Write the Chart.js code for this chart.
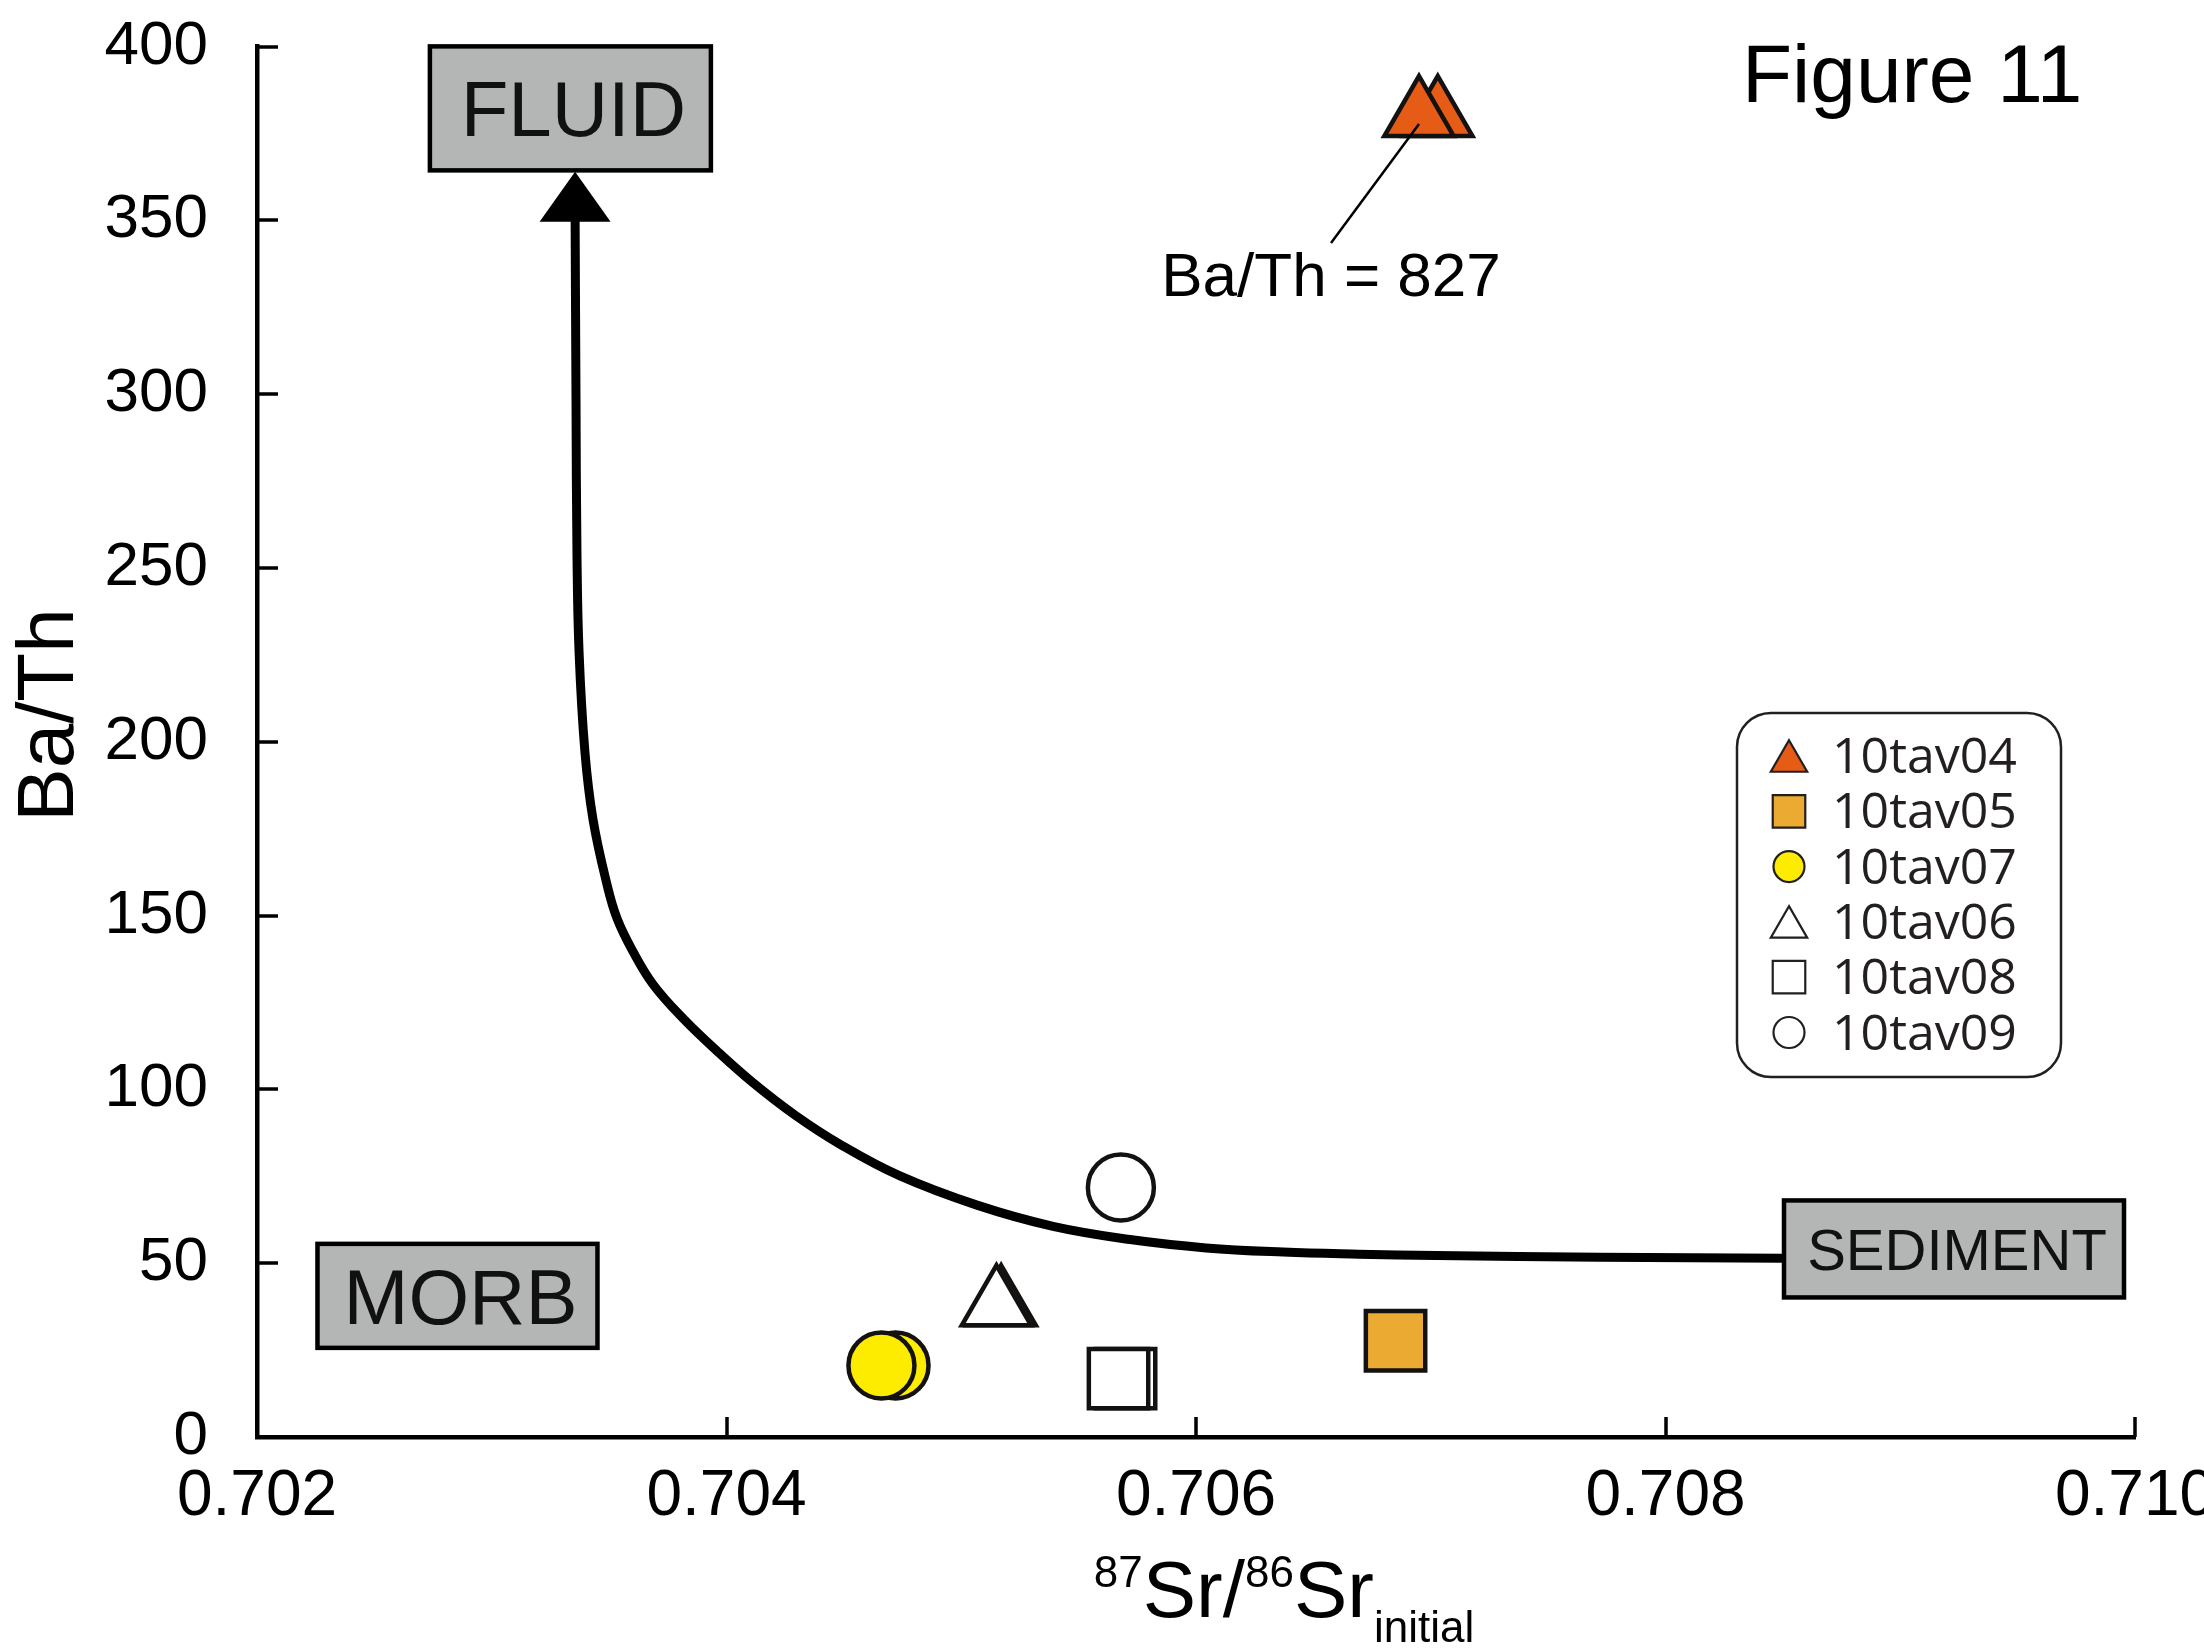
<!DOCTYPE html>
<html>
<head>
<meta charset="utf-8">
<title>Figure 11</title>
<script src="https://cdn.jsdelivr.net/npm/chart.js@4.4.1/dist/chart.umd.min.js"></script>
<style>
  html, body { margin: 0; padding: 0; background: #fff; }
  #wrap { width: 2204px; height: 1649px; }
</style>
</head>
<body>
<div id="wrap"><canvas id="fig11" width="2204" height="1649"></canvas></div>
<script>
// Ba/Th vs initial 87Sr/86Sr with the fluid / sediment mixing curve

const sampleNames = ['10tav04', '10tav05', '10tav07', '10tav06', '10tav08', '10tav09'];
// duplicate analyses per sample (first one is drawn on top)
const srInitial = [
  [0.70695, 0.70703],
  [0.70685],
  [0.70466, 0.70472],
  [0.70515, 0.70517],
  [0.70567, 0.70570],
  [0.70568]
];
const baTh = [
  [827, 827],
  [27.7],
  [20.6, 20.6],
  [37.9, 37.9],
  [16.8, 16.8],
  [71.8]
];

// mixing curve from the fluid end-member down to sediment
const curveSr = [0.703355, 0.703359, 0.703363, 0.703372, 0.703397, 0.703431, 0.703491, 0.703534,
  0.703602, 0.703687, 0.703815, 0.703960, 0.704113, 0.704292, 0.704484, 0.704739, 0.705067,
  0.705391, 0.705719, 0.706043, 0.706371, 0.706694, 0.707022, 0.707721, 0.708505];
const curveBaTh = [352, 297.3, 254.3, 225.7, 197.0, 177.8, 158.9, 149.1,
  139.6, 130.2, 120.4, 111.0, 101.9, 92.6, 84.2, 75.1, 66.7,
  60.6, 56.8, 54.4, 53.2, 52.6, 52.2, 51.7, 51.4];
const fluidArrowTip = [0.703355, 364];

const xTicks = [0.702, 0.704, 0.706, 0.708, 0.710];
const yTicks = [0, 50, 100, 150, 200, 250, 300, 350, 400];

// values above the axis top are pinned just under it
const yMax = 400;
const offScaleBaTh = 380;
const plotBaTh = v => (v > yMax ? offScaleBaTh : v);

const FONT = "'Liberation Sans', Arial, Helvetica, sans-serif";
const LEGEND_FONT = "'Open Sans', 'Noto Sans', sans-serif";

const markerStyle = [
  { shape: 'triangle', fill: '#e65c17', r: 40, lr: 21 },
  { shape: 'rect', fill: '#ebab33', r: 42, lr: 23 },
  { shape: 'circle', fill: '#fdec00', r: 33, lr: 15.5 },
  { shape: 'triangle', fill: '#ffffff', r: 40, lr: 21 },
  { shape: 'rect', fill: '#ffffff', r: 42, lr: 23 },
  { shape: 'circle', fill: '#ffffff', r: 33, lr: 15.5 }
];

const boxes = [
  { text: 'FLUID', x: 0.703335, y: 382.2, w: 281, h: 124, size: 78 },
  { text: 'MORB', x: 0.702854, y: 40.6, w: 280, h: 104, size: 78 },
  { text: 'SEDIMENT', x: 0.709229, y: 54.1, w: 340, h: 97, size: 58 }
];

const sampleSets = sampleNames.map((name, i) => ({
  type: 'scatter',
  label: name,
  data: srInitial[i].map((sr, j) => ({ x: sr, y: plotBaTh(baTh[i][j]) })).reverse(),
  pointStyle: markerStyle[i].shape,
  pointRadius: markerStyle[i].r,
  pointHoverRadius: markerStyle[i].r,
  backgroundColor: markerStyle[i].fill,
  borderColor: '#141210',
  borderWidth: 4.5,
  pointBorderWidth: 4.5,
  order: 1
}));

const curveSet = {
  type: 'line',
  label: 'mixing',
  data: curveSr.map((sr, i) => ({ x: sr, y: curveBaTh[i] })),
  borderColor: '#000',
  borderWidth: 9,
  pointRadius: 0,
  tension: 0.4,
  borderJoinStyle: 'round',
  fill: false,
  order: 10
};

const decor = {
  id: 'decor',
  afterDatasetsDraw(chart) {
    const { ctx, chartArea: area } = chart;
    const xs = chart.scales.x, ys = chart.scales.y;
    ctx.save();

    // inward tick marks
    ctx.strokeStyle = '#000';
    ctx.lineWidth = 3.5;
    ctx.beginPath();
    yTicks.slice(1).forEach(v => {
      const py = Math.round(ys.getPixelForValue(v));
      ctx.moveTo(area.left, py);
      ctx.lineTo(area.left + 21, py);
    });
    xTicks.slice(1).forEach(v => {
      const px = Math.round(xs.getPixelForValue(v));
      ctx.moveTo(px, area.bottom);
      ctx.lineTo(px, area.bottom - 20);
    });
    ctx.stroke();

    // arrow head on the fluid end of the curve
    const tx = xs.getPixelForValue(fluidArrowTip[0]);
    const ty = ys.getPixelForValue(fluidArrowTip[1]);
    ctx.fillStyle = '#000';
    ctx.beginPath();
    ctx.moveTo(tx, ty);
    ctx.lineTo(tx + 35.5, ty + 50);
    ctx.lineTo(tx - 35.5, ty + 50);
    ctx.closePath();
    ctx.fill();

    // end-member boxes
    boxes.forEach(b => {
      const cx = xs.getPixelForValue(b.x);
      const cy = ys.getPixelForValue(b.y);
      ctx.fillStyle = '#b4b6b5';
      ctx.fillRect(cx - b.w / 2, cy - b.h / 2, b.w, b.h);
      ctx.lineWidth = 4.5;
      ctx.strokeStyle = '#000';
      ctx.strokeRect(cx - b.w / 2, cy - b.h / 2, b.w, b.h);
      ctx.fillStyle = '#111';
      ctx.font = b.size + 'px ' + FONT;
      ctx.textAlign = 'center';
      ctx.textBaseline = 'alphabetic';
      ctx.fillText(b.text, cx + 3, cy + b.size * 0.36);
    });

    // leader and value label for the off-scale sample
    const mx = xs.getPixelForValue(srInitial[0][0]);
    const my = ys.getPixelForValue(plotBaTh(baTh[0][0]));
    ctx.strokeStyle = '#000';
    ctx.lineWidth = 2.5;
    ctx.beginPath();
    ctx.moveTo(mx, my + 8);
    ctx.lineTo(mx - 88, my + 127);
    ctx.stroke();
    ctx.fillStyle = '#000';
    ctx.font = '62px ' + FONT;
    ctx.textAlign = 'center';
    ctx.fillText('Ba/Th = ' + baTh[0][0], mx - 88, my + 180);

    // figure number
    ctx.textAlign = 'left';
    ctx.font = '82px ' + FONT;
    ctx.fillText('Figure 11', 1742, 102);

    // y axis title
    ctx.save();
    ctx.translate(73, 715);
    ctx.rotate(-Math.PI / 2);
    ctx.textAlign = 'center';
    ctx.font = '80px ' + FONT;
    ctx.fillText('Ba/Th', 0, 0);
    ctx.restore();

    // x axis title with super/subscripts
    const parts = [
      { t: '87', size: 44, dy: -30 },
      { t: 'Sr/', size: 80, dy: 0 },
      { t: '86', size: 44, dy: -30 },
      { t: 'Sr', size: 80, dy: 0 },
      { t: 'initial', size: 44, dy: 25 }
    ];
    let total = 0;
    parts.forEach(p => { ctx.font = p.size + 'px ' + FONT; p.w = ctx.measureText(p.t).width; total += p.w; });
    let x0 = 1284 - total / 2;
    ctx.textAlign = 'left';
    parts.forEach(p => {
      ctx.font = p.size + 'px ' + FONT;
      ctx.fillText(p.t, x0, 1617 + p.dy);
      x0 += p.w;
    });

    // legend
    const lx = 1737, ly = 713, lw = 324, lh = 364, lrad = 34;
    ctx.beginPath();
    ctx.roundRect(lx, ly, lw, lh, lrad);
    ctx.fillStyle = '#fff';
    ctx.fill();
    ctx.lineWidth = 2.5;
    ctx.strokeStyle = '#231f20';
    ctx.stroke();
    sampleNames.forEach((name, i) => {
      const st = markerStyle[i];
      const rowY = 756 + i * 55.3;
      const my2 = st.shape === 'triangle' ? rowY + st.lr / 4 : rowY;
      ctx.fillStyle = st.fill;
      ctx.strokeStyle = '#231f20';
      ctx.lineWidth = 2.2;
      Chart.helpers.drawPoint(ctx, { pointStyle: st.shape, radius: st.lr, rotation: 0, borderWidth: 2.2 }, 1789, my2);
      ctx.fillStyle = '#231f20';
      ctx.font = '50px ' + LEGEND_FONT;
      ctx.textAlign = 'left';
      ctx.textBaseline = 'alphabetic';
      ctx.fillText(name, 1832, rowY + 17);
    });

    ctx.restore();
  }
};

new Chart(document.getElementById('fig11'), {
  type: 'scatter',
  data: { datasets: [...sampleSets, curveSet] },
  options: {
    responsive: false,
    devicePixelRatio: 1,
    animation: false,
    layout: { padding: { top: 42, right: 69, left: 0, bottom: 0 } },
    plugins: { legend: { display: false }, tooltip: { enabled: false } },
    scales: {
      x: {
        type: 'linear',
        position: 'bottom',
        min: 0.702,
        max: 0.710,
        afterBuildTicks: s => { s.ticks = xTicks.map(v => ({ value: v })); },
        afterFit: s => { s.height = 212; s.paddingLeft = 0; s.paddingRight = 0; },
        grid: { display: false, drawTicks: false },
        border: { display: true, width: 4.5, color: '#000' },
        ticks: {
          padding: 22,
          color: '#000',
          maxRotation: 0,
          font: { family: FONT, size: 64 },
          callback: v => v.toFixed(3)
        }
      },
      y: {
        type: 'linear',
        min: 0,
        max: yMax,
        afterBuildTicks: s => { s.ticks = yTicks.map(v => ({ value: v })); },
        afterFit: s => { s.width = 257; s.paddingTop = 0; s.paddingBottom = 0; },
        grid: { display: false, drawTicks: false },
        border: { display: true, width: 4.5, color: '#000' },
        ticks: {
          padding: 49,
          color: '#000',
          font: { family: FONT, size: 62 },
          callback: v => String(v)
        }
      }
    }
  },
  plugins: [decor]
});
</script>
</body>
</html>
